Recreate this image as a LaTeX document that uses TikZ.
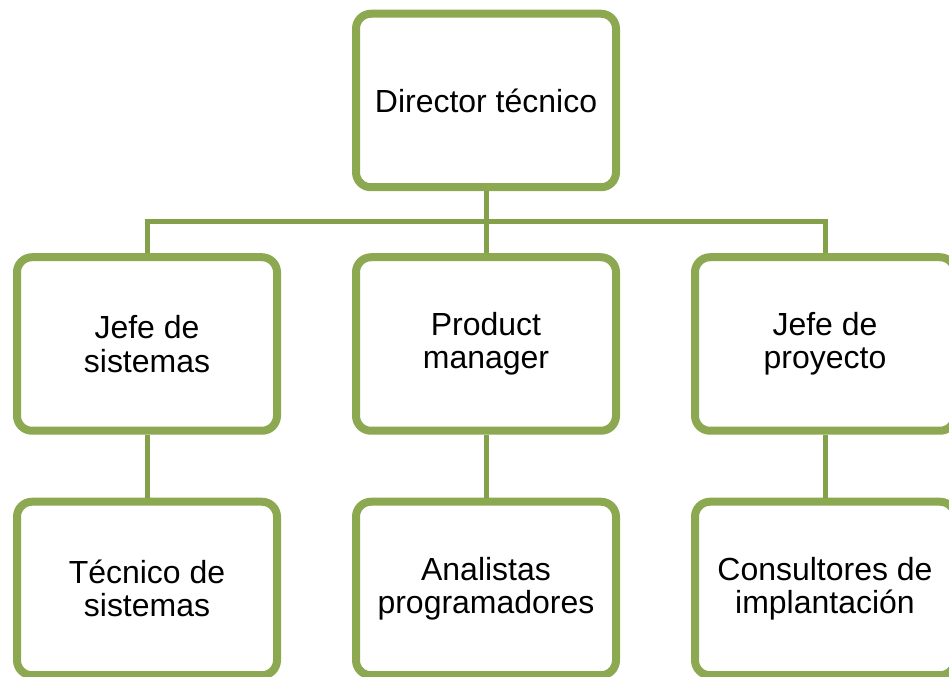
\documentclass[tikz,border=0pt]{standalone}
\usepackage{fontspec}
\setmainfont{Liberation Sans}
\usetikzlibrary{shadows}
\definecolor{olive}{RGB}{140,168,80}
\definecolor{oliveline}{RGB}{132,160,74}
\tikzset{
    puesto/.style={draw=olive, line width=0.16cm, fill=white, rounded corners=0.3cm,
        minimum width=5.2cm, minimum height=3.47cm, align=center,
        font=\fontsize{18.2}{19}\selectfont,
        drop shadow={opacity=0.18, shadow xshift=0.05cm, shadow yshift=-0.07cm}},
    rama/.style={draw=oliveline, line width=0.1cm}
}
\begin{document}
\begin{tikzpicture}
            \useasboundingbox (0,0) rectangle (18.98,13.54);
            \node [puesto] (dir) at (9.72,11.53) {Director técnico};
            % segunda fila
            \node [puesto] (js) at (2.94,6.66) {Jefe de\\sistemas};
            \node [puesto] (pm) at (9.72,6.66) {Product\\manager};
            \node [puesto] (jp) at (16.5,6.66) {Jefe de\\proyecto};
            % tercera fila
            \node [puesto] (ts) at (2.94,1.77) {Técnico de\\sistemas};
            \node [puesto] (ap) at (9.72,1.77) {Analistas\\programadores};
            \node [puesto] (ci) at (16.5,1.77) {Consultores de\\implantación};
            \coordinate (bus) at (9.72,9.1);
            \draw [rama] (dir) -- (bus);
            \draw [rama] (js.north) |- (bus) -| (jp.north);
            \draw [rama] (bus) -- (pm);
            \draw [rama] (js) -- (ts);
            \draw [rama] (pm) -- (ap);
            \draw [rama] (jp) -- (ci);
\end{tikzpicture}
\end{document}
